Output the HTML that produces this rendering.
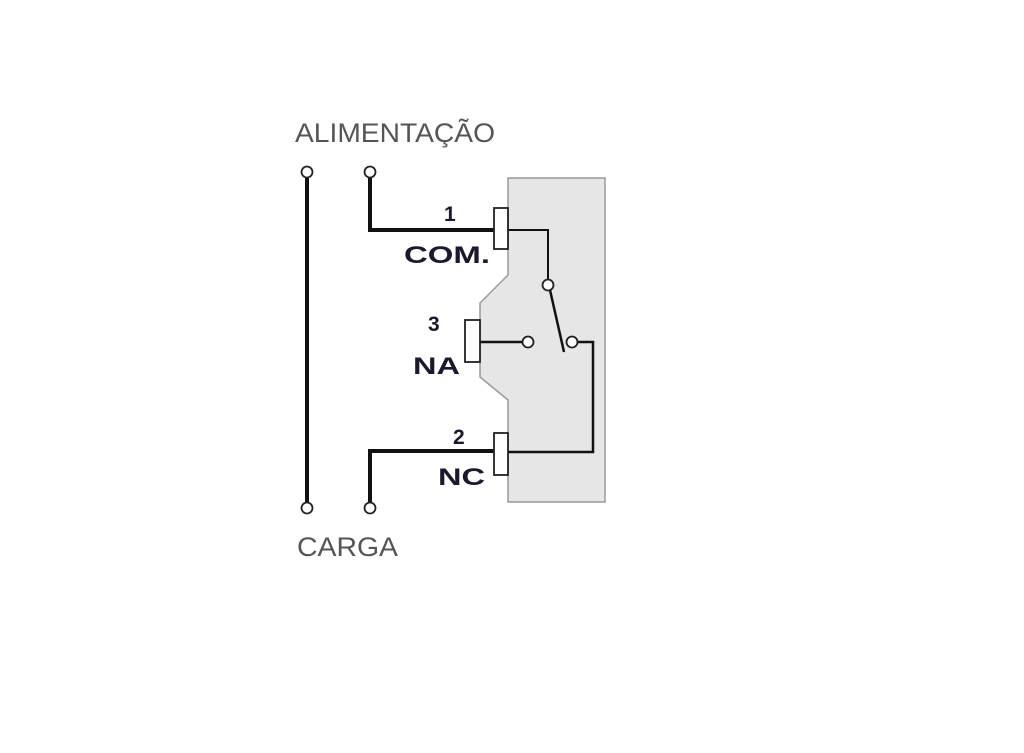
<!DOCTYPE html>
<html><head><meta charset="utf-8"><style>html,body{margin:0;padding:0;background:#fff;}</style></head>
<body>
<svg width="1024" height="748" viewBox="0 0 1024 748" xmlns="http://www.w3.org/2000/svg">
<polygon points="508,178 605,178 605,502 508,502 508,400 480,377 480,303 508,275" fill="#e6e6e6" stroke="#999" stroke-width="1.5"/>
<g stroke="#111" fill="none">
<line x1="307" y1="177" x2="307" y2="503" stroke-width="4"/>
<polyline points="370,177 370,230 494,230" stroke-width="4"/>
<polyline points="370,503 370,451 494,451" stroke-width="4"/>
<polyline points="508,230 548,230 548,280" stroke-width="2"/>
<line x1="550" y1="290" x2="564" y2="352" stroke-width="2.5"/>
<polyline points="577,342 593,342 593,452 508,452" stroke-width="2.5"/>
<line x1="480" y1="342" x2="523" y2="342" stroke-width="2.5"/>
</g>
<g fill="#fff" stroke="#222" stroke-width="1.8">
<circle cx="307" cy="172" r="5.5"/><circle cx="370" cy="172" r="5.5"/>
<circle cx="307" cy="508" r="5.5"/><circle cx="370" cy="508" r="5.5"/>
<circle cx="548" cy="285" r="5.5"/><circle cx="572" cy="342" r="5.5"/><circle cx="528" cy="342" r="5.5"/>
<rect x="494" y="208" width="14" height="41"/>
<rect x="465" y="320" width="15" height="42"/>
<rect x="494" y="433" width="14" height="42"/>
</g>
<g font-family="Liberation Sans, sans-serif" font-weight="bold" fill="#1a1a2e" font-size="24">
<text x="444" y="221" font-size="21">1</text>
<text x="404" y="263" textLength="86" lengthAdjust="spacingAndGlyphs">COM.</text>
<text x="428" y="331" font-size="21">3</text>
<text x="413" y="374" textLength="47" lengthAdjust="spacingAndGlyphs">NA</text>
<text x="453" y="444" font-size="21">2</text>
<text x="438" y="485" textLength="47" lengthAdjust="spacingAndGlyphs">NC</text>
</g>
<g font-family="Liberation Sans, sans-serif" fill="#555" font-size="27">
<text x="295" y="142" textLength="200" lengthAdjust="spacingAndGlyphs">ALIMENTAÇÃO</text>
<text x="297" y="556" textLength="101" lengthAdjust="spacingAndGlyphs">CARGA</text>
</g>
</svg>
</body></html>
